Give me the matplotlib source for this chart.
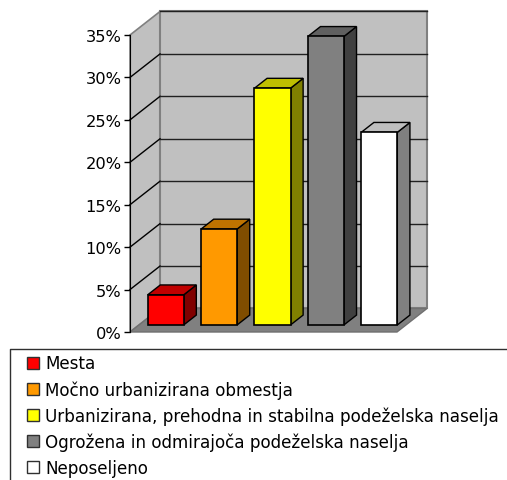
import matplotlib
matplotlib.use('Agg')
import matplotlib.pyplot as plt
from matplotlib.lines import Line2D
from matplotlib.patches import Patch

labels = ['Mesta', 'Močno urbanizirana obmestja',
          'Urbanizirana, prehodna in stabilna podeželska naselja',
          'Ogrožena in odmirajoča podeželska naselja', 'Neposeljeno']
values = [3.55, 11.3, 27.9, 34.0, 22.7]
front_colors = ['#ff0000', '#ff9900', '#ffff00', '#808080', '#ffffff']
top_colors = ['#c00000', '#bf7300', '#bfbf00', '#606060', '#bfbfbf']
side_colors = ['#800000', '#804d00', '#808000', '#404040', '#808080']
yticks = [0, 5, 10, 15, 20, 25, 30, 35]

# oblique depth, in data units for depth 1
DX = 0.562
DY = 2.77


def proj(x, y, d):
    return x + d * DX, y + d * DY


def face(ax, pts, color, **kw):
    xs = [p[0] for p in pts]
    ys = [p[1] for p in pts]
    ax.fill(xs, ys, facecolor=color, clip_on=False, **kw)


fig = plt.figure(figsize=(5.07, 4.81), dpi=100)
ax = fig.add_axes([130 / 507, (481 - 333) / 481, 267 / 507, 297 / 481])
ax.set_xlim(0, 5)
ax.set_ylim(0, 35)
ax.patch.set_visible(False)

# walls and floor
face(ax, [proj(0, 0, 0), proj(0, 0, 1), proj(0, 35, 1), proj(0, 35, 0)], '#c0c0c0', edgecolor='#808080', lw=1.2, zorder=1)
face(ax, [proj(0, 0, 1), proj(5, 0, 1), proj(5, 35, 1), proj(0, 35, 1)], '#c0c0c0', edgecolor='#808080', lw=1.5, zorder=1)
face(ax, [proj(0, 0, 0), proj(5, 0, 0), proj(5, 0, 1), proj(0, 0, 1)], '#808080', edgecolor='#707070', lw=1, zorder=2)

# gridlines, side wall then back wall
for t in yticks[1:]:
    x0, y0 = proj(0, t, 0)
    x1, y1 = proj(0, t, 1)
    x2, y2 = proj(5, t, 1)
    if t < 35:
        ax.plot([x0, x1], [y0, y1], color='black', lw=1, clip_on=False, zorder=3)
    ax.plot([x1, x2], [y1, y2], color='#202020', lw=1, clip_on=False, zorder=3)

# bars
d0 = 0.3
d1 = 0.72
width = 0.675
for i, v in enumerate(values):
    left = i + 0.5 - width / 2 + d0 * DX
    right = left + width
    base = d0 * DY
    side = [(right, base), (right + (d1 - d0) * DX, base + (d1 - d0) * DY),
            (right + (d1 - d0) * DX, base + v + (d1 - d0) * DY), (right, base + v)]
    top = [(left, base + v), (right, base + v),
           (right + (d1 - d0) * DX, base + v + (d1 - d0) * DY),
           (left + (d1 - d0) * DX, base + v + (d1 - d0) * DY)]
    face(ax, side, side_colors[i], edgecolor='black', lw=1, zorder=4 + i)
    face(ax, top, top_colors[i], edgecolor='black', lw=1, zorder=4 + i)
    ax.bar(left, v, width=width, bottom=base, align='edge', color=front_colors[i],
           edgecolor='black', lw=1.2, zorder=4.5 + i, clip_on=False)

for s in ['top', 'right', 'bottom']:
    ax.spines[s].set_visible(False)
ax.spines['left'].set_color('black')
ax.spines['left'].set_zorder(20)
ax.set_xticks([])
ax.set_yticks(yticks)
ax.set_yticklabels(['%d%%' % t for t in yticks], fontsize=11.7)
ax.tick_params(axis='y', length=4.5, width=1, pad=1.5, colors='black')

handles = [Patch(facecolor=c, edgecolor='#303030', lw=1) for c in front_colors]
leg = fig.legend(handles, labels, loc='upper left', bbox_to_anchor=(27 / 507, (481 - 355.5) / 481),
                 fontsize=12.1, frameon=False, handlelength=0.72, handleheight=0.72,
                 handletextpad=0.36, labelspacing=0.46, borderpad=0, borderaxespad=0)

# legend box runs off the right and bottom of the picture
fig.add_artist(Line2D([9.5 / 507, 9.5 / 507, 1], [0, (481 - 350) / 481, (481 - 350) / 481],
                      color='#303030', lw=1))

fig.savefig('out.png', dpi=100)
